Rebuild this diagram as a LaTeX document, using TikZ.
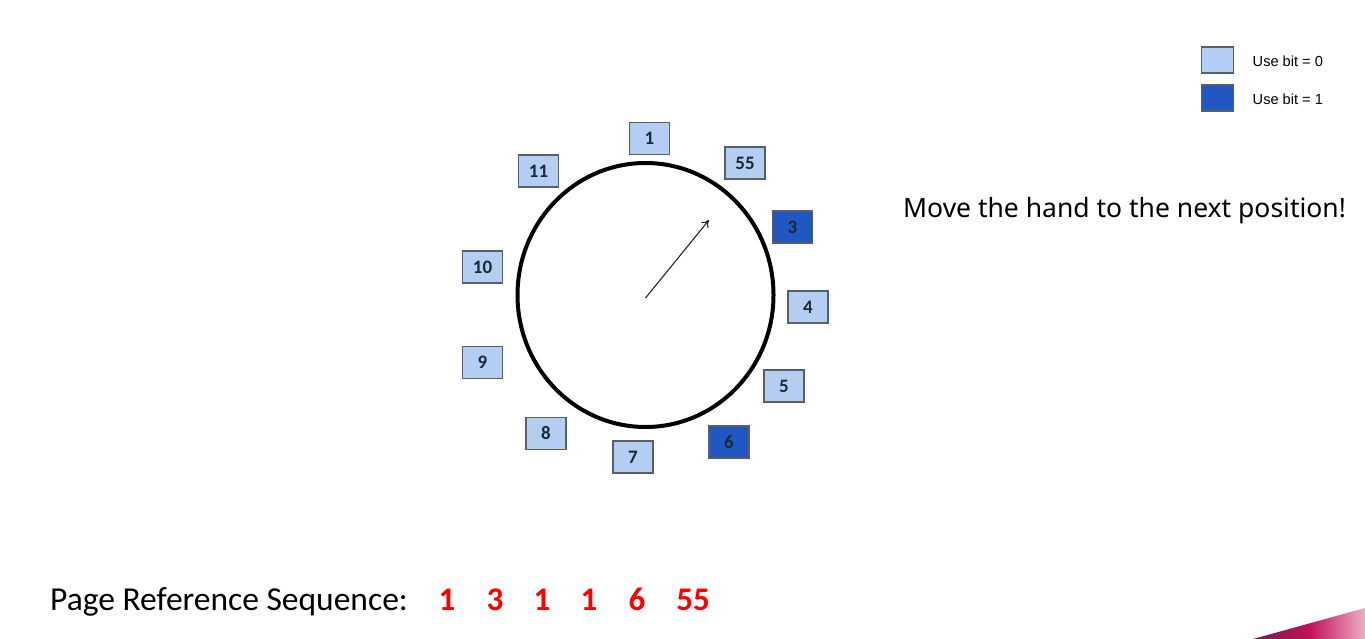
\documentclass[tikz,border=0pt]{standalone}
\usepackage{fontspec}
\setmainfont{Carlito}
\newfontfamily\legendfont{Liberation Sans}
\newfontfamily\msgfont{Noto Sans}
\usetikzlibrary{arrows.meta}
\definecolor{lightbox}{HTML}{B4CDF2}
\definecolor{darkbox}{HTML}{2157C2}
\definecolor{boxedge}{HTML}{56606C}
\definecolor{boxtext}{HTML}{1B2838}
\definecolor{seqred}{HTML}{FF0000}
\definecolor{wedgeA}{HTML}{6E1F4C}
\definecolor{wedgeB}{HTML}{C2105A}
\definecolor{wedgeC}{HTML}{EBB0C4}
\begin{document}
\begin{tikzpicture}[x=1pt,y=-1pt,
  page/.style={draw=boxedge,line width=1.2pt,fill=lightbox,minimum width=40pt,minimum height=32pt,inner sep=0pt,
    font=\fontsize{19}{19}\selectfont\bfseries,text=boxtext},
  usedpage/.style={page,fill=darkbox},
  legbox/.style={draw=boxedge,line width=1.2pt,minimum width=32pt,minimum height=26pt,inner sep=0pt},
  legtext/.style={anchor=west,inner sep=0pt,font=\legendfont\fontsize{14.6}{15}\selectfont},
  seqnum/.style={anchor=base,inner sep=0pt,text=seqred,font=\fontsize{33}{33}\selectfont\bfseries}]
\useasboundingbox (0,0) rectangle (1365,639);
\fill[white] (0,0) rectangle (1365,639);
% wedge
\shade[left color=wedgeA,right color=wedgeC,middle color=wedgeB] (1253,639) -- (1365,608) -- (1365,639) -- cycle;
% clock
\draw[line width=4pt] (645.5,295) ellipse [x radius=128pt, y radius=132pt];
\coordinate (hub) at (645.5,298);
\coordinate (tip) at (709,220);
\draw[line width=1.1pt,draw=black!85,-{To[length=7pt,width=9pt]}] (hub) -- (tip);
% pages
\node[page] (p1) at (649.5,138.5) {1};
\node[page] (p55) at (745,163) {55};
\node[page] (p11) at (538.5,171) {11};
\node[usedpage] (p3) at (792.5,227) {3};
\node[page] (p10) at (482.5,267) {10};
\node[page] (p4) at (808,307) {4};
\node[page] (p9) at (482.5,362.5) {9};
\node[page] (p5) at (784,386) {5};
\node[page] (p8) at (546,433.5) {8};
\node[usedpage] (p6) at (729,442) {6};
\node[page] (p7) at (633,457) {7};
% legend
\node[legbox,fill=lightbox] (l0) at (1217.5,60) {};
\node[legbox,fill=darkbox] (l1) at (1217.5,98) {};
\node[legtext] (t0) at (1252.5,61) {Use bit = 0};
\node[legtext] (t1) at (1252.5,99) {Use bit = 1};
% message
\node[anchor=base west,inner sep=0pt,font=\msgfont\fontsize{26.5}{26.5}\selectfont] (msg) at (903,218) {Move the hand to the next position!};
% sequence
\node[anchor=base west,inner sep=0pt,font=\fontsize{33.5}{33.5}\selectfont] (seq) at (50,610) {Page Reference Sequence:};
\node[seqnum] (s1) at (447,610) {1};
\node[seqnum] (s2) at (495,610) {3};
\node[seqnum] (s3) at (542,610) {1};
\node[seqnum] (s4) at (589,610) {1};
\node[seqnum] (s5) at (637,610) {6};
\node[seqnum] (s6) at (693,610) {55};
\end{tikzpicture}
\end{document}
